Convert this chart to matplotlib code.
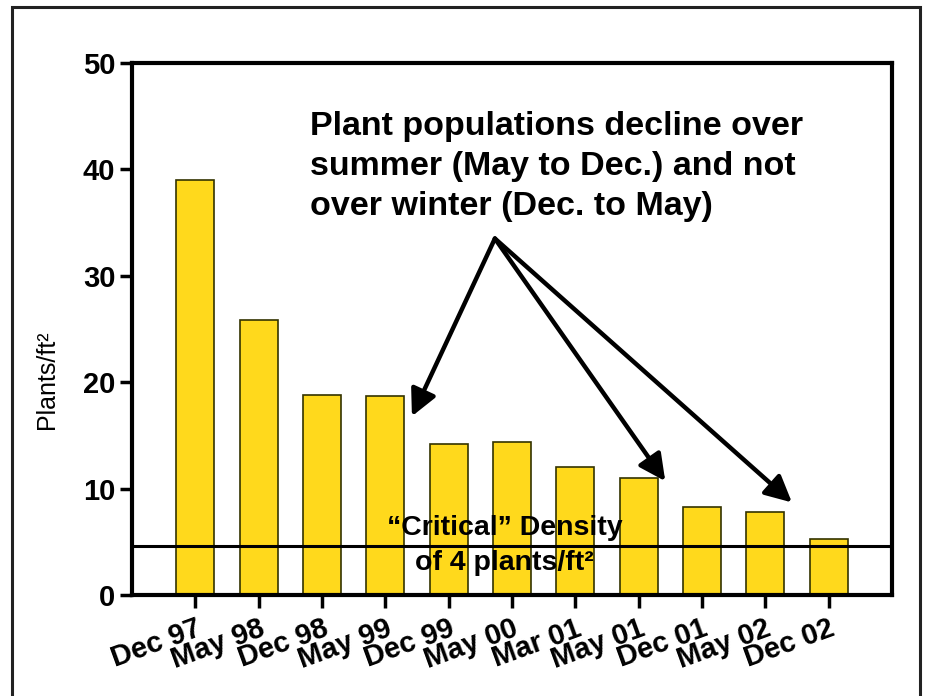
import matplotlib
matplotlib.use("Agg")
import matplotlib.pyplot as plt
from matplotlib.patches import Rectangle

plt.rcParams['font.family'] = ['Liberation Sans', 'DejaVu Sans']

# Sampling dates and plant densities
dates = ["Dec 97", "May 98", "Dec 98", "May 99", "Dec 99", "May 00",
         "Mar 01", "May 01", "Dec 01", "May 02", "Dec 02"]
density = [39.0, 25.8, 18.8, 18.7, 14.2, 14.4, 12.0, 11.0, 8.3, 7.8, 5.3]
critical_density = 4.6
yticks = [0, 10, 20, 30, 40, 50]

note = ("Plant populations decline over\n"
        "summer (May to Dec.) and not\n"
        "over winter (Dec. to May)")
note_xy = (4.73, 33.5)
# summer-decline intervals the arrows point at
arrow_targets = [(3.42, 16.8), (7.42, 10.7), (9.42, 8.7)]

W, H = 927, 696
fig = plt.figure(figsize=(W / 100, H / 100), dpi=100)
fig.patches.append(Rectangle((12 / W, -0.05), (920 - 12) / W, 1 - 7 / H + 0.05,
                             transform=fig.transFigure, fill=False,
                             edgecolor="#222222", linewidth=2.2))

ax = fig.add_axes([132 / W, 1 - 595 / H, (892 - 132) / W, (595 - 63) / H])
x = list(range(len(dates)))
ax.bar(x, density, width=0.6, color="#FFD91C", edgecolor="#333300",
       linewidth=1.2, zorder=2)
ax.axhline(critical_density, color="black", linewidth=2.2, zorder=3)

ax.set_xlim(-1, len(dates))
ax.set_ylim(0, 50)
ax.set_yticks(yticks)
ax.set_yticklabels([str(v) for v in yticks], fontsize=21, fontweight="bold")
ax.set_xticks(x)
ax.set_xticklabels(dates, fontsize=21, fontweight="bold", rotation=20,
                   ha="right", va="top", rotation_mode="anchor")
ax.tick_params(axis="both", direction="out", length=9, width=2.5,
               color="black")
ax.tick_params(axis="x", pad=5)
ax.tick_params(axis="y", pad=3)
for s in ax.spines.values():
    s.set_linewidth(3)
fig.text(47 / W, 1 - 380 / H, "Plants/ft\u00b2", fontsize=18, rotation=90,
         ha="center", va="center")

ax.text(1.81, 45.5, note, fontsize=24.5, fontweight="bold", ha="left",
        va="top", linespacing=1.38, zorder=4)
for tx, ty in arrow_targets:
    ax.annotate("", xy=(tx, ty), xytext=note_xy,
                arrowprops=dict(arrowstyle="-|>,head_length=0.8,head_width=0.4",
                                mutation_scale=20, color="black",
                                linewidth=3.2, shrinkA=0, shrinkB=0),
                zorder=4)

ax.text(4.88, 6.3, "\u201cCritical\u201d Density", fontsize=20.5,
        fontweight="bold", ha="center", va="center", zorder=4)
ax.text(4.88, 3.0, "of 4 plants/ft\u00b2", fontsize=20.5, fontweight="bold",
        ha="center", va="center", zorder=4)

fig.savefig("out.png", dpi=100)
